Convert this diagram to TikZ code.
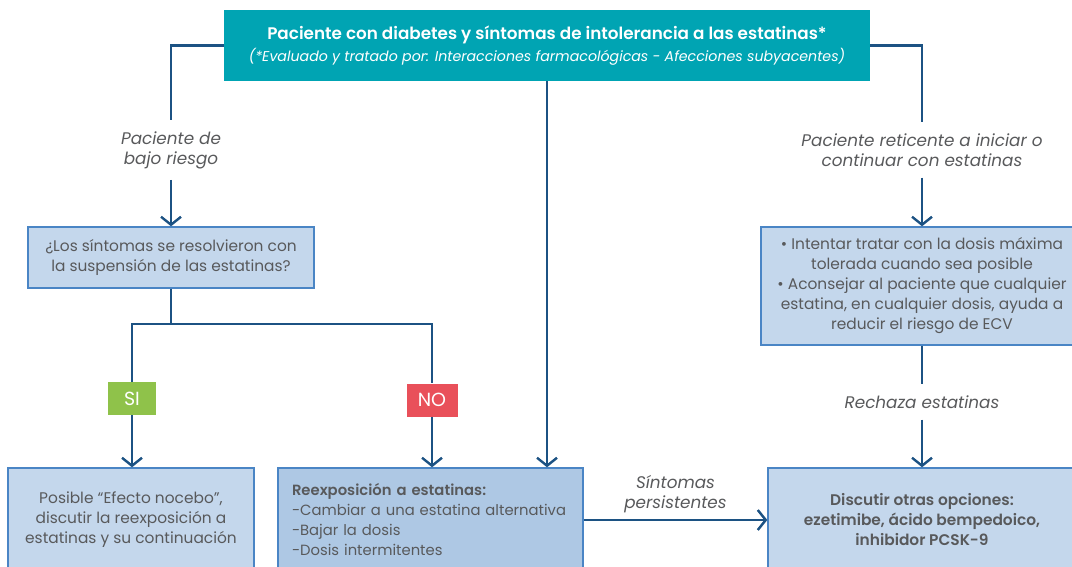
\documentclass[tikz,border=0pt]{standalone}
\usepackage{fontspec}
\setmainfont{Poppins}[BoldFont={Poppins SemiBold},BoldItalicFont={Poppins SemiBold Italic}]
\usepackage{xcolor}
\usetikzlibrary{arrows.meta,positioning}
\definecolor{teal}{HTML}{00A4B3}
\definecolor{boxfill}{HTML}{C4D7EC}
\definecolor{boxfillb}{HTML}{AEC8E4}
\definecolor{boxline}{HTML}{4A85C5}
\definecolor{flow}{HTML}{1C5283}
\definecolor{txt}{HTML}{58595B}
\definecolor{sigreen}{HTML}{8FC24A}
\definecolor{nored}{HTML}{E9505A}
\tikzset{line/.style = {draw=flow, line width=2.4pt}}
\tikzset{arr/.style = {line, -{Straight Barb[length=8pt,width=20pt,line width=2.4pt]}}}
\tikzset{box/.style = {draw=boxline, fill=boxfill, line width=1.4pt, text=txt,
    font=\fontsize{15.4}{20}\selectfont, align=center, inner sep=0pt}}
\tikzset{lbl/.style = {text=txt, font=\fontsize{16.8}{20}\selectfont\itshape,
    align=center, inner xsep=0pt, inner ysep=11pt}}
\tikzset{badge/.style = {text=white, font=\fontsize{19}{19}\selectfont,
    minimum height=33pt, minimum width=48pt, inner xsep=4pt}}

\begin{document}
\begin{tikzpicture}[x=1pt,y=-1pt]
\useasboundingbox (0,0) rectangle (1072,567);
\clip (0,0) rectangle (1072,567);

% top
\node[fill=teal, text=white, align=center, minimum width=646pt, minimum height=71pt,
      inner sep=0pt] (top) at (547,45.5)
    {{\fontsize{16.8}{22}\selectfont\bfseries Paciente con diabetes y síntomas de intolerancia a las estatinas*}\\[3pt]
     {\fontsize{14.2}{18}\selectfont\itshape (*Evaluado y tratado por: Interacciones farmacológicas - Afecciones subyacentes)}};

% left branch
\node[lbl] (lowlbl) at (171,150) {Paciente de\\bajo riesgo};
\node[box, minimum width=286pt, minimum height=61pt] (q) at (171,257.5)
    {¿Los síntomas se resolvieron con\\la suspensión de las estatinas?};
\coordinate (sp) at (171,324);
\node[badge, fill=sigreen] (si) at (132,398.5) {SI};
\node[badge, fill=nored, minimum width=51pt] (no) at (432,400) {NO};

% bottom row
\node[box, minimum width=246pt, minimum height=104pt] (nocebo) at (131,520)
    {Posible “Efecto nocebo”,\\discutir la reexposición a\\estatinas y su continuación};
\node[box, fill=boxfillb, minimum width=305pt, minimum height=104pt, align=left,
      text width=277pt, font=\fontsize{14.8}{20}\selectfont] (re) at (430.5,520)
    {\textbf{Reexposición a estatinas:}\\-Cambiar a una estatina alternativa\\-Bajar la dosis\\-Dosis intermitentes};
\node[box, minimum width=308pt, minimum height=104pt] (opt) at (922,520)
    {\textbf{Discutir otras opciones:}\\\textbf{ezetimibe, ácido bempedoico,}\\\textbf{inhibidor PCSK-9}};

% right branch
\node[lbl] (retlbl) at (922,150) {Paciente reticente a iniciar o\\continuar con estatinas};
\node[box, minimum width=322pt, minimum height=118pt] (adv) at (922,286)
    {• Intentar tratar con la dosis máxima\\tolerada cuando sea posible\\• Aconsejar al paciente que cualquier\\estatina, en cualquier dosis, ayuda a\\reducir el riesgo de ECV};
\node[lbl] (rechlbl) at (922,402) {Rechaza estatinas};

% connectors
\draw[line] (top.west) -| (lowlbl.north);
\draw[arr] (lowlbl.south) -- (q.north);
\draw[line] (q.south) -- (sp);
\draw[line] (si.north) |- (sp) -| (no.north);
\draw[arr] (si.south) -- (si.south |- nocebo.north);
\draw[arr] (no.south) -- (no.south |- re.north);
\draw[arr] (top.south) -- (top.south |- re.north);
\draw[line] (top.east) -| (retlbl.north);
\draw[arr] (retlbl.south) -- (adv.north);
\draw[line] (adv.south) -- (rechlbl.north);
\draw[arr] (rechlbl.south) -- (opt.north);
\draw[arr] (re.east) -- node[lbl, above, inner ysep=6pt] {Síntomas\\persistentes} (opt.west);
\end{tikzpicture}
\end{document}
